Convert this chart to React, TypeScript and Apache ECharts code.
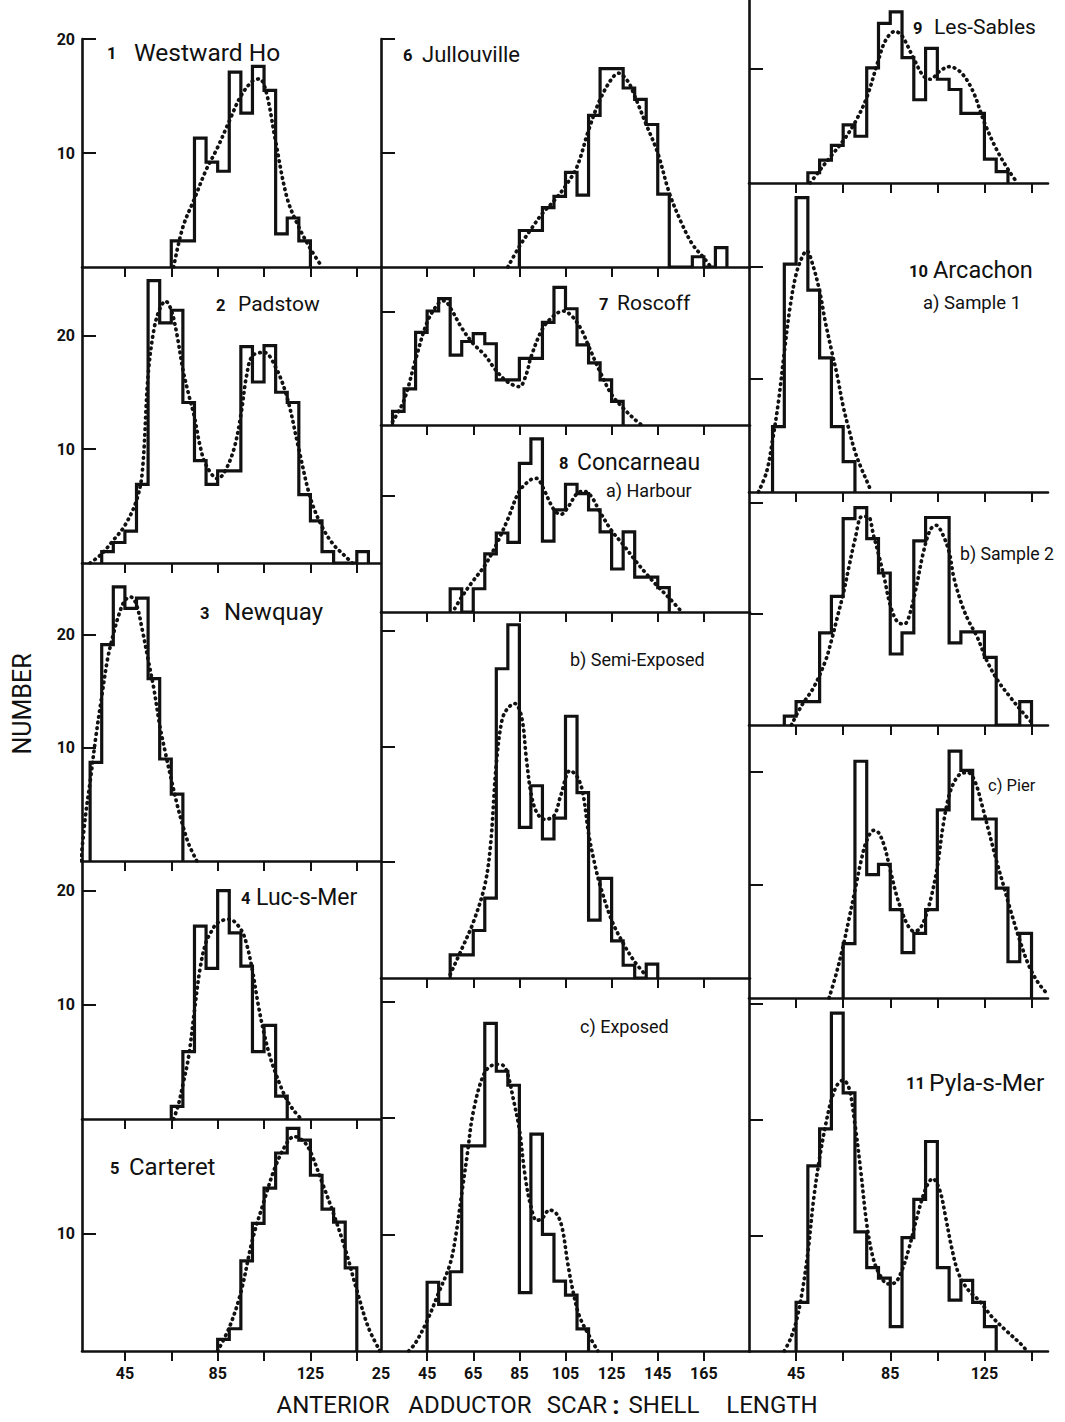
import React, { useEffect, useRef } from "react";
import * as echarts from "echarts";

const INK = "#111111";
const FONT = "Roboto, 'Noto Sans', sans-serif";

// ---------- axis ticks and labels ----------
const col1TickValues = [45, 65, 85, 105, 125, 145];
const col1LabelValues = [45, 85, 125];
const col2TickValues = [45, 65, 85, 105, 125, 145, 165];
const col2LabelValues = [25, 45, 65, 85, 105, 125, 145, 165];
const col3TickValues = [45, 65, 85, 105, 125, 145];
const col3LabelValues = [45, 85, 125];
const yTickValues = [10, 20, 30];

const BIN_WIDTH = 5;

// ---------- 1 Westward Ho ----------
const westwardHoStart = 65;
const westwardHoCounts = [2.3, 2.3, 11.3, 9.2, 8.4, 17.1, 13.5, 17.6, 15.5, 2.9, 4.3, 2.3];
const westwardHoCurve = [[66, 0], [70, 3.5], [75, 6], [80, 8.5], [85, 10.5], [90, 12.8], [95, 15], [100, 16.3], [103, 16.5], [106, 15.3], [110, 11], [115, 6], [120, 3.5], [125, 1.6], [130, 0]];

// ---------- 2 Padstow ----------
const padstowStart = 35;
const padstowCounts = [1, 1.8, 2.8, 6.9, 24.8, 21.1, 22.2, 14.1, 9, 6.9, 8.1, 8.1, 19, 15.9, 19.1, 15, 14.1, 6, 3.7, 1, 0, 0, 1];
const padstowCurve = [[30, 0], [35, 0.8], [40, 2], [45, 3.3], [50, 5.5], [52.5, 8], [55, 16.5], [57.5, 20.5], [60, 22.3], [62.5, 23], [65, 22.2], [67.5, 20], [70, 17], [72.5, 14.8], [75, 12.8], [77.5, 10.2], [80, 8.6], [85, 7.4], [88, 8], [92, 10], [95, 13], [97.5, 16.5], [100, 18.2], [105, 18.5], [110, 17.2], [115, 14.5], [120, 10], [125, 5.7], [130, 3.2], [135, 1.6], [140, 0.6], [143, 0]];

// ---------- 3 Newquay ----------
const newquayStart = 30;
const newquayCounts = [8.7, 19.1, 24.2, 22.3, 23.2, 16.1, 9, 5.9];
const newquayCurve = [[26, 0], [28, 4], [30, 7], [32.5, 11], [35, 14.5], [37.5, 17.8], [40, 20], [42.5, 21.8], [45, 23], [47.5, 23.3], [50, 22.6], [52.5, 20.4], [55, 17.8], [57.5, 15.2], [60, 12], [62.5, 9.5], [65, 7.2], [67.5, 5], [70, 3.1], [72.5, 1.5], [76, 0]];

// ---------- 4 Luc-s-Mer ----------
const lucStart = 65;
const lucCounts = [1.1, 5.9, 16.9, 13.2, 20, 16.3, 13.4, 5.9, 8.2, 2];
const lucCurve = [[66, 0], [68, 1.2], [70, 3], [72.5, 5.5], [75, 9.5], [77.5, 13.3], [80, 15.5], [82.5, 16.5], [85, 17.2], [90, 17.5], [95, 16.6], [97.5, 15.3], [100, 13], [102.5, 10], [105, 7.5], [107.5, 5.5], [110, 4], [112.5, 2.7], [115, 1.6], [118, 0.7], [121, 0]];

// ---------- 5 Carteret ----------
const carteretStart = 85;
const carteretCounts = [1, 1.9, 7.7, 10.9, 13.9, 16.9, 19, 18, 15, 12.1, 11, 7.1];
const carteretCurve = [[85, 0], [90, 2], [95, 5], [100, 9.5], [105, 12.8], [110, 15.8], [115, 17.8], [118, 18.3], [122, 17.9], [125, 17], [130, 14.4], [135, 11.7], [140, 8.7], [145, 5.2], [150, 2], [155, 0]];

// ---------- 6 Jullouville ----------
const jullouvilleStart = 85;
const jullouvilleCounts = [3.2, 3.2, 5.2, 6.2, 8.3, 6.3, 13.3, 17.4, 17.4, 15.7, 14.7, 12.5, 6.4, 0, 0, 0.9, 0, 1.7];
const jullouvilleCurve = [[80, 0], [85, 1.8], [90, 3.3], [95, 4.7], [100, 5.8], [105, 7.1], [110, 8.8], [115, 12], [120, 14.7], [125, 16.5], [128, 17], [132, 16.3], [135, 15], [140, 12.5], [145, 10], [150, 6.5], [155, 4], [160, 2], [165, 0.8], [168, 0]];

// ---------- 7 Roscoff ----------
const roscoffStart = 30;
const roscoffCounts = [1.2, 3.2, 8.2, 10.1, 11.2, 6.2, 7.4, 8.1, 7.2, 4, 4, 5.9, 5.9, 9.1, 12.2, 10.3, 7.1, 5.5, 4, 2.1];
const roscoffCurve = [[30, 0.3], [35, 2.2], [40, 5.8], [45, 9.1], [50, 10.8], [52.5, 11], [55, 10.4], [60, 8.6], [65, 7.2], [70, 6.2], [75, 4.8], [80, 3.8], [85, 3.4], [88, 4.5], [90, 6], [95, 8.5], [100, 9.7], [104, 10.1], [108, 9.6], [112, 8.4], [115, 7], [120, 4.7], [125, 2.7], [130, 1.5], [135, 0.5], [138, 0]];

// ---------- 8 Concarneau a) Harbour ----------
const harbourStart = 55;
const harbourCounts = [2, 0, 2, 5, 6.8, 6, 12.8, 14.9, 6.1, 8.8, 11, 10.2, 8.8, 6.9, 3.7, 6.9, 3, 3, 2.1];
const harbourCurve = [[57, 0.3], [60, 1.3], [65, 2.7], [70, 4], [75, 5.8], [80, 8], [85, 10.4], [90, 11.4], [92.5, 11.5], [95, 10.8], [100, 8.8], [103, 8.4], [106, 9], [110, 10.2], [113, 10.4], [116, 10], [120, 8.6], [125, 7], [130, 5.8], [135, 4.5], [140, 3.3], [145, 2.2], [150, 1.2], [155, 0.1]];

// ---------- 8 b) Semi-Exposed ----------
const semiStart = 55;
const semiCounts = [2, 2, 4.1, 6.9, 26.7, 30.5, 13, 16.6, 12, 13.8, 22.6, 16, 5, 8.6, 3.2, 1.1, 0, 1.2];
const semiCurve = [[55, 0.3], [60, 2.5], [65, 4.8], [70, 8], [72.5, 11.5], [75, 18.5], [77.5, 22.3], [80, 23.3], [83, 23.7], [86, 22.5], [88, 19], [90, 16], [92.5, 14.3], [96, 13.7], [100, 14], [103, 15.8], [107, 17.9], [110, 17.4], [112.5, 16], [115, 12.5], [117.5, 10], [120, 8], [125, 5], [130, 3], [135, 1.4], [140, 0.2]];

// ---------- 8 c) Exposed ----------
const exposedStart = 45;
const exposedCounts = [5.9, 4, 6.8, 17.6, 17.6, 28.1, 24, 22.8, 5, 18.6, 10, 6, 4.8, 1.9];
const exposedCurve = [[37, 0], [40, 0.7], [45, 2.6], [50, 5], [55, 7.5], [57.5, 10], [60, 13.5], [62.5, 17], [65, 20.5], [70, 23.9], [75, 24.6], [78, 24.5], [80, 23.7], [82.5, 21.5], [85, 19], [87.5, 15], [90, 12.4], [92.5, 11.2], [95, 11.4], [98, 12.1], [101, 11.8], [103.5, 10.6], [106, 7.5], [108.5, 4.9], [111, 3], [115, 1.4], [119, 0]];

// ---------- 9 Les-Sables ----------
const lesSablesStart = 50;
const lesSablesCounts = [0.9, 2, 3.3, 5.1, 4.1, 10.1, 14, 15, 11, 7.3, 11.8, 9.1, 8.2, 6.1, 6.1, 2.1, 1];
const lesSablesCurve = [[51, 0], [55, 1.1], [60, 2.4], [65, 3.7], [70, 5.3], [75, 7.5], [80, 10.8], [83, 12.5], [87, 13.3], [90, 12.9], [95, 10.9], [99, 9.4], [102, 9.1], [106, 9.8], [110, 10.2], [115, 9.7], [120, 8.1], [125, 5.3], [130, 3], [135, 1.2], [139, 0]];

// ---------- 10 Arcachon a) Sample 1 ----------
const sample1Start = 35;
const sample1Counts = [5.8, 20.2, 26.1, 17.9, 11.9, 5.8, 2.7];
const sample1Curve = [[29, 0], [32.5, 1.8], [35, 4.6], [37.5, 8], [40, 12.4], [42.5, 16.5], [45, 19.3], [47.5, 20.8], [49.5, 21.4], [52, 20.2], [55, 17.8], [57.5, 15], [60, 12.6], [62.5, 10.3], [65, 7.6], [67.5, 5.5], [70, 3.6], [72.5, 2.2], [75, 1], [77, 0]];

// ---------- 10 b) Sample 2 ----------
const sample2Start = 40;
const sample2Counts = [0.8, 2.1, 2.1, 8.3, 11.6, 18.6, 19.6, 16.8, 13.7, 6.4, 8.3, 16.6, 18.7, 18.7, 7.4, 8.4, 8.4, 6.1, 0, 0, 2.1];
const sample2Curve = [[43, 0], [47.5, 1.8], [52.5, 3.4], [57.5, 5.8], [60, 7.6], [62.5, 9.7], [65, 11.8], [67.5, 14.3], [70, 16.7], [73, 18.8], [75.5, 18.8], [78, 17], [80, 15.4], [82.5, 13.2], [85, 10.8], [88, 9.3], [91, 9.1], [93, 9.8], [96, 12.4], [99, 15.5], [102, 17.6], [104.5, 18], [107, 17.3], [110, 15.6], [112, 13.3], [115, 11.1], [118, 9.5], [122, 7.9], [126, 5.8], [131, 3.9], [136, 2.5], [141, 1.2], [146, 0]];

// ---------- 10 c) Pier ----------
const pierStart = 65;
const pierCounts = [4.8, 20.9, 10.9, 11.8, 7.8, 4, 5.7, 7.8, 16.6, 21.8, 20.1, 15.8, 15.8, 9.7, 3.2, 5.7];
const pierCurve = [[59, 0], [62, 2.1], [65, 4.6], [67.5, 7], [70, 9.5], [72.5, 12], [75, 13.9], [78, 14.8], [80, 14.6], [82.5, 13.4], [85, 11.3], [87.5, 9.2], [90, 7.6], [92.5, 6.4], [95, 5.9], [97.5, 6.1], [100, 7.2], [102.5, 9], [105, 11.6], [107.5, 15.3], [110, 17.9], [112.5, 19.2], [115, 19.8], [118, 19.9], [121, 19.1], [124, 17], [127, 14.6], [130, 12.2], [133, 10], [136, 7.8], [140, 5.1], [144, 2.8], [148, 1.3], [152, 0.3]];

// ---------- 11 Pyla-s-Mer ----------
const pylaStart = 45;
const pylaCounts = [4.2, 16, 19.2, 29.2, 22.3, 10.3, 7.2, 6.3, 2.1, 9.8, 13.1, 18.1, 7.2, 4.4, 6.1, 4.2, 2.1];
const pylaCurve = [[40, 0], [42.5, 1], [45, 2.5], [47.5, 5], [50, 8.5], [52.5, 13.2], [55, 16.7], [57.5, 19.5], [60, 21.7], [62.5, 23], [65, 23.4], [67.5, 22.7], [70, 19.6], [72.5, 15.5], [75, 11], [77.5, 8.2], [80, 6.8], [84, 5.8], [87, 5.9], [90, 7], [93, 8.9], [96, 11.3], [100, 14], [103, 14.9], [106, 13.9], [108.5, 11.6], [111, 9], [114, 6.7], [118, 5.3], [123, 4.3], [128, 3], [134, 1.8], [141, 0.5], [143, 0]];

// ---------- layout (pixels) ----------
const COLUMNS = [
  { left: 82, width: 298, min: 26.5, max: 155, ticks: col1TickValues, labels: col1LabelValues },
  { left: 381, width: 369, min: 25, max: 185, ticks: col2TickValues, labels: col2LabelValues },
  { left: 749, width: 299, min: 25, max: 152, ticks: col3TickValues, labels: col3LabelValues },
];

const PANELS = [
  { col: 0, top: 39, height: 228, yMax: 20, start: westwardHoStart, counts: westwardHoCounts, curve: westwardHoCurve, bottom: false },
  { col: 0, top: 267, height: 296, yMax: 26, start: padstowStart, counts: padstowCounts, curve: padstowCurve, bottom: false },
  { col: 0, top: 563, height: 298, yMax: 26.3, start: newquayStart, counts: newquayCounts, curve: newquayCurve, bottom: false },
  { col: 0, top: 861, height: 258, yMax: 22.6, start: lucStart, counts: lucCounts, curve: lucCurve, bottom: false },
  { col: 0, top: 1119, height: 232, yMax: 19.8, start: carteretStart, counts: carteretCounts, curve: carteretCurve, bottom: true },
  { col: 1, top: 39, height: 228, yMax: 20, start: jullouvilleStart, counts: jullouvilleCounts, curve: jullouvilleCurve, bottom: false },
  { col: 1, top: 267, height: 158, yMax: 14, start: roscoffStart, counts: roscoffCounts, curve: roscoffCurve, bottom: false },
  { col: 1, top: 425, height: 187, yMax: 16.1, start: harbourStart, counts: harbourCounts, curve: harbourCurve, bottom: false },
  { col: 1, top: 612, height: 366, yMax: 31.6, start: semiStart, counts: semiCounts, curve: semiCurve, bottom: false },
  { col: 1, top: 978, height: 373, yMax: 32, start: exposedStart, counts: exposedCounts, curve: exposedCurve, bottom: true },
  { col: 2, top: 0, height: 183, yMax: 16.05, start: lesSablesStart, counts: lesSablesCounts, curve: lesSablesCurve, bottom: false },
  { col: 2, top: 183, height: 309, yMax: 27.4, start: sample1Start, counts: sample1Counts, curve: sample1Curve, bottom: false },
  { col: 2, top: 492, height: 233, yMax: 21, start: sample2Start, counts: sample2Counts, curve: sample2Curve, bottom: false },
  { col: 2, top: 725, height: 273, yMax: 24.1, start: pierStart, counts: pierCounts, curve: pierCurve, bottom: false },
  { col: 2, top: 998, height: 353, yMax: 30.5, start: pylaStart, counts: pylaCounts, curve: pylaCurve, bottom: true },
];

const TITLES = [
  { num: "1", numX: 107, name: "Westward Ho", nameX: 134, y: 52, size: 24.5 },
  { num: "2", numX: 216, name: "Padstow", nameX: 238, y: 304, size: 21 },
  { num: "3", numX: 200, name: "Newquay", nameX: 224, y: 612, size: 24 },
  { num: "4", numX: 241, name: "Luc-s-Mer", nameX: 256, y: 897, size: 23 },
  { num: "5", numX: 110, name: "Carteret", nameX: 129, y: 1167, size: 24 },
  { num: "6", numX: 403, name: "Jullouville", nameX: 422, y: 54, size: 22 },
  { num: "7", numX: 599, name: "Roscoff", nameX: 617, y: 303, size: 21 },
  { num: "8", numX: 559, name: "Concarneau", nameX: 577, y: 462, size: 23 },
  { num: "9", numX: 913, name: "Les-Sables", nameX: 934, y: 27, size: 21 },
  { num: "10", numX: 909, name: "Arcachon", nameX: 933, y: 270, size: 23.5 },
  { num: "11", numX: 906, name: "Pyla-s-Mer", nameX: 929, y: 1082, size: 24.5 },
];

const SUBTITLES = [
  { text: "a) Harbour", x: 606, y: 490, size: 18 },
  { text: "b) Semi-Exposed", x: 570, y: 659, size: 18 },
  { text: "c) Exposed", x: 580, y: 1026, size: 18 },
  { text: "a) Sample 1", x: 923, y: 303, size: 18.5 },
  { text: "b) Sample 2", x: 960, y: 554, size: 17.7 },
  { text: "c) Pier", x: 988, y: 785, size: 16.5 },
];

const AXIS_TITLE_WORDS = [
  { text: "ANTERIOR", x: 333 },
  { text: "ADDUCTOR", x: 470 },
  { text: "SCAR", x: 577 },
  { text: ":", x: 616 },
  { text: "SHELL", x: 664 },
  { text: "LENGTH", x: 772 },
];

function histogramPoints(start: number, counts: number[]) {
  const pts: number[][] = [[start, 0]];
  counts.forEach((c, i) => pts.push([start + i * BIN_WIDTH, c]));
  pts.push([start + counts.length * BIN_WIDTH, 0]);
  return pts;
}

function textEl(text: string, x: number, y: number, size: number, weight: string, align = "left") {
  return {
    type: "text",
    x,
    y,
    silent: true,
    style: {
      text,
      fill: INK,
      fontSize: size,
      fontFamily: FONT,
      fontWeight: weight,
      align,
      verticalAlign: "middle",
      textAlign: align,
      textVerticalAlign: "middle",
    },
  };
}

function buildOption() {
  const grid = PANELS.map((p) => ({
    left: COLUMNS[p.col].left,
    top: p.top,
    width: COLUMNS[p.col].width,
    height: p.height,
    containLabel: false,
    outerBoundsMode: "none",
  }));

  const xAxis = PANELS.map((p, i) => {
    const c = COLUMNS[p.col];
    return {
      type: "value",
      gridIndex: i,
      min: c.min,
      max: c.max,
      axisLine: { show: true, onZero: false, lineStyle: { color: INK, width: 2.6 } },
      axisTick: { show: true, inside: false, length: 10, customValues: c.ticks, lineStyle: { color: INK, width: 2 } },
      axisLabel: {
        show: p.bottom,
        customValues: c.labels,
        margin: 14,
        color: INK,
        fontFamily: FONT,
        fontWeight: "bold",
        fontSize: 16,
      },
      splitLine: { show: false },
    };
  });

  const yAxis = PANELS.map((p, i) => {
    const vals = yTickValues.filter((v) => v <= p.yMax + 0.001);
    return {
      type: "value",
      gridIndex: i,
      min: 0,
      max: p.yMax,
      axisLine: { show: true, onZero: false, lineStyle: { color: INK, width: 2.6 } },
      axisTick: { show: true, inside: true, length: 14, customValues: vals, lineStyle: { color: INK, width: 2 } },
      axisLabel: {
        show: p.col === 0,
        customValues: vals,
        margin: 7,
        color: INK,
        fontFamily: FONT,
        fontWeight: "bold",
        fontSize: 16,
      },
      splitLine: { show: false },
    };
  });

  const series: any[] = [];
  PANELS.forEach((p, i) => {
    series.push({
      type: "line",
      xAxisIndex: i,
      yAxisIndex: i,
      data: histogramPoints(p.start, p.counts),
      step: "end",
      symbol: "none",
      silent: true,
      z: 3,
      lineStyle: { color: INK, width: 3.2, join: "miter" },
    });
    series.push({
      type: "line",
      xAxisIndex: i,
      yAxisIndex: i,
      data: p.curve,
      smooth: 0.35,
      symbol: "none",
      silent: true,
      z: 2,
      lineStyle: { color: INK, width: 3.7, type: [0.6, 5.2], cap: "round" },
    });
  });

  const graphic: any[] = [];
  TITLES.forEach((t) => {
    graphic.push(textEl(t.num, t.numX, t.y + 1, 16.5, "bold"));
    graphic.push(textEl(t.name, t.nameX, t.y, t.size, "normal"));
  });
  SUBTITLES.forEach((s) => graphic.push(textEl(s.text, s.x, s.y, s.size, "normal")));
  AXIS_TITLE_WORDS.forEach((w) => graphic.push(textEl(w.text, w.x, 1405, w.text === ":" ? 26 : 24, w.text === ":" ? "bold" : "normal", "center")));
  graphic.push({
    type: "text",
    x: 22,
    y: 704,
    rotation: Math.PI / 2,
    silent: true,
    style: {
      text: "NUMBER",
      fill: INK,
      fontSize: 25,
      fontFamily: FONT,
      fontWeight: "normal",
      align: "center",
      verticalAlign: "middle",
      textAlign: "center",
      textVerticalAlign: "middle",
    },
  });

  return {
    animation: false,
    backgroundColor: "#ffffff",
    grid,
    xAxis,
    yAxis,
    series,
    graphic,
  };
}

export default function App() {
  const ref = useRef<HTMLDivElement | null>(null);
  useEffect(() => {
    if (!ref.current) return;
    const chart = echarts.init(ref.current, null, { renderer: "svg" });
    chart.setOption(buildOption() as any);
    return () => chart.dispose();
  }, []);
  return (
    <div
      ref={ref}
      style={{ position: "absolute", left: 0, top: 0, width: 1065, height: 1422, background: "#fff" }}
    />
  );
}
